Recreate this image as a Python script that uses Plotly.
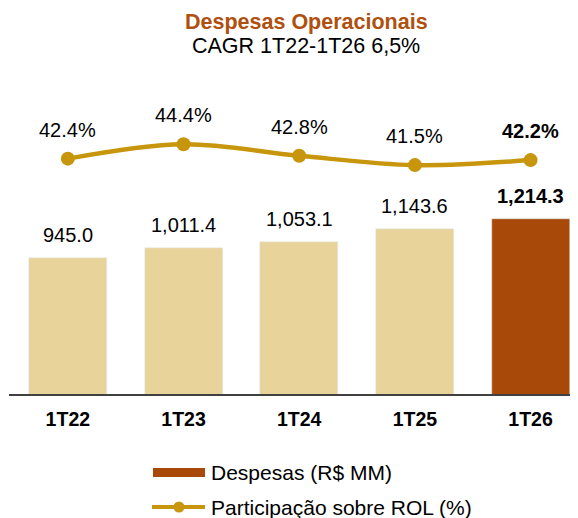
import plotly.graph_objects as go

categories = ["1T22", "1T23", "1T24", "1T25", "1T26"]
despesas = [945.0, 1011.4, 1053.1, 1143.6, 1214.3]
participacao = [42.4, 44.4, 42.8, 41.5, 42.2]

title_text = "Despesas Operacionais"
subtitle_text = "CAGR 1T22-1T26 6,5%"
legend_bar = "Despesas (R$ MM)"
legend_line = "Participação sobre ROL (%)"

LIGHT = "#E8D39B"
DARK = "#A8490A"
GOLD = "#C8960C"
TITLE_C = "#B0500F"
FONT = "Liberation Sans, Arial, sans-serif"

bar_colors = [LIGHT] * (len(categories) - 1) + [DARK]

fig = go.Figure()
fig.add_trace(go.Bar(x=categories, y=despesas, marker_color=bar_colors,
                     width=0.674, showlegend=False, hoverinfo="skip"))
fig.add_trace(go.Scatter(x=categories, y=participacao, yaxis="y2", mode="lines+markers",
                         line=dict(color=GOLD, width=4.5, shape="spline", smoothing=1.0),
                         marker=dict(color=GOLD, size=14), showlegend=False, hoverinfo="skip"))

ann = []
n = len(categories)
for i, (c, v) in enumerate(zip(categories, despesas)):
    last = i == n - 1
    txt = f"{v:,.1f}"
    ann.append(dict(x=c, y=v, xref="x", yref="y", text=f"<b>{txt}</b>" if last else txt,
                    showarrow=False, yanchor="middle", yshift=23,
                    font=dict(family=FONT, size=20, color="#000000")))
for i, (c, v) in enumerate(zip(categories, participacao)):
    last = i == n - 1
    txt = f"{v:.1f}%"
    ann.append(dict(x=c, y=v, xref="x", yref="y2", text=f"<b>{txt}</b>" if last else txt,
                    showarrow=False, yanchor="middle", yshift=29,
                    font=dict(family=FONT, size=20, color="#000000")))

# page-pixel helpers (plot area spans page x 10..578, y 70..395)
def px_x(p):
    return (p - 10) / 568

def px_y(p):
    return (395 - p) / 325

# title and subtitle
ann.append(dict(x=px_x(306), y=px_y(22), xref="paper", yref="paper", text=f"<b>{title_text}</b>",
                showarrow=False, xanchor="center", yanchor="middle",
                font=dict(family=FONT, size=21.5, color=TITLE_C)))
ann.append(dict(x=px_x(306), y=px_y(46), xref="paper", yref="paper", text=subtitle_text,
                showarrow=False, xanchor="center", yanchor="middle",
                font=dict(family=FONT, size=21.5, color="#000000")))

# custom legend
shapes = [
    dict(type="line", xref="paper", yref="paper", x0=px_x(9), x1=1, y0=0, y1=0,
         line=dict(color="#404040", width=2)),
    dict(type="rect", xref="paper", yref="paper", x0=px_x(153), x1=px_x(205),
         y0=px_y(468), y1=px_y(477), fillcolor=DARK, line=dict(width=0)),
    dict(type="line", xref="paper", yref="paper", x0=px_x(152), x1=px_x(205),
         y0=px_y(507), y1=px_y(507), line=dict(color=GOLD, width=4)),
    dict(type="circle", xref="paper", yref="paper", x0=px_x(173.5), x1=px_x(184.5),
         y0=px_y(501.5), y1=px_y(512.5), fillcolor=GOLD, line=dict(width=0)),
]
ann.append(dict(x=px_x(209), y=px_y(472.5), xref="paper", yref="paper", text=legend_bar,
                showarrow=False, xanchor="left", yanchor="middle",
                font=dict(family=FONT, size=21, color="#000000")))
ann.append(dict(x=px_x(209), y=px_y(507), xref="paper", yref="paper", text=legend_line,
                showarrow=False, xanchor="left", yanchor="middle",
                font=dict(family=FONT, size=21, color="#000000")))

fig.update_layout(
    width=570, height=510,
    margin=dict(l=2, r=0, t=62, b=123),
    paper_bgcolor="white", plot_bgcolor="white",
    font=dict(family=FONT, color="#000000"),
    xaxis=dict(type="category", range=[-0.5, 4.41], showgrid=False, showline=False,
               ticks="", ticklabelstandoff=10,
               tickfont=dict(family=FONT, size=19.5, color="#000000", weight="bold")),
    yaxis=dict(range=[0, 2241], visible=False, showgrid=False),
    yaxis2=dict(range=[9.6, 54.7], overlaying="y", visible=False, showgrid=False),
    annotations=ann, shapes=shapes, bargap=0, showlegend=False,
)

fig.write_html("out.html")
